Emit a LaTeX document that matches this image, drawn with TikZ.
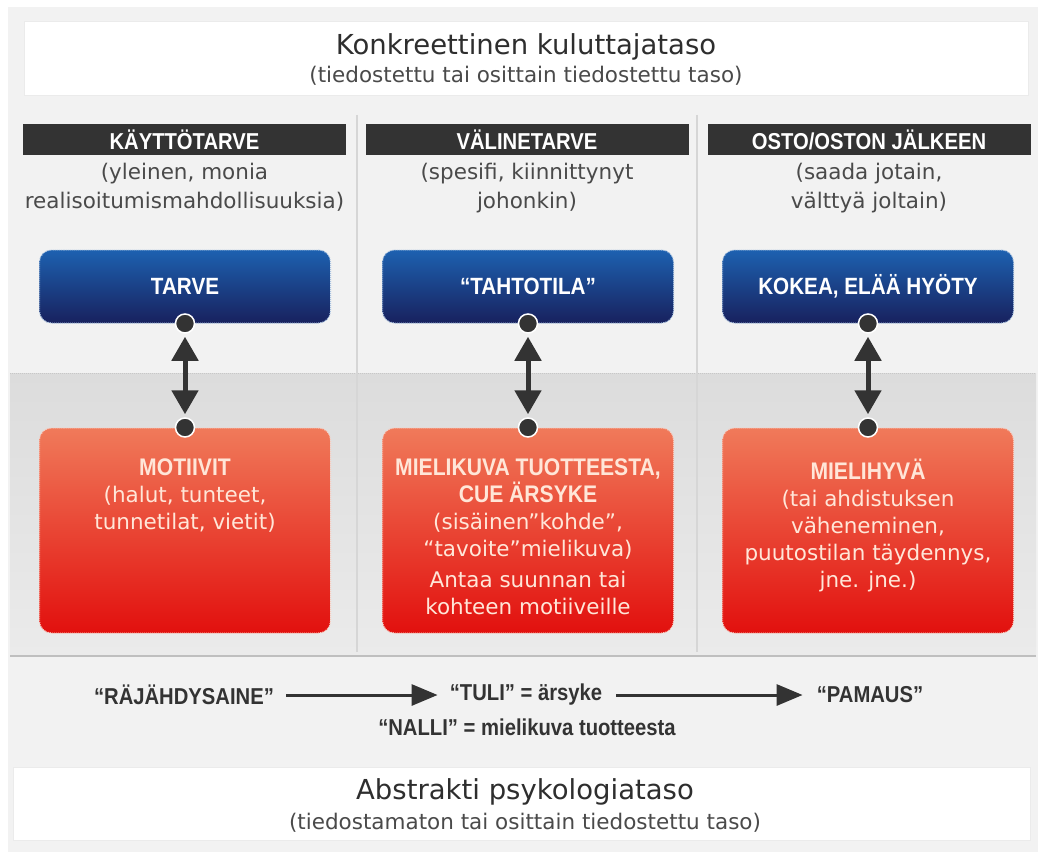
\documentclass[tikz,border=0pt]{standalone}
\usepackage{fontspec}
\setmainfont{DejaVu Sans}
\newfontfamily\headfont{Liberation Sans}[FakeStretch=0.88]
\usetikzlibrary{arrows.meta}
\definecolor{panel}{HTML}{F2F2F2}
\definecolor{bandtop}{HTML}{DCDCDC}
\definecolor{bandbot}{HTML}{EBEBEB}
\definecolor{bar}{HTML}{333333}
\definecolor{bluetop}{HTML}{1D61B0}
\definecolor{bluebot}{HTML}{18215E}
\definecolor{redtop}{HTML}{F07A5A}
\definecolor{redbot}{HTML}{E2100E}
\definecolor{peach}{HTML}{FFE6D8}
\definecolor{txt}{HTML}{2E2E2E}
\definecolor{sub}{HTML}{4A4A4A}
\newcommand\boxheadfont{\headfont\bfseries\fontsize{24}{27}\selectfont}
\newcommand\boxtextfont{\fontsize{21.5}{27}\selectfont}
\tikzset{
  whitebox/.style={fill=white, draw=black!8, line width=0.8pt},
  headbar/.style={fill=bar, minimum width=323pt, minimum height=31pt, inner sep=0pt,
    text=white, font=\headfont\bfseries\fontsize{23}{26}\selectfont},
  desc/.style={align=center, text=sub, font=\fontsize{21.5}{29}\selectfont},
  bluebox/.style={rounded corners=12pt, top color=bluetop, bottom color=bluebot,
    draw=white!60!bluetop, densely dotted, line width=1pt, minimum width=291pt,
    minimum height=73pt, inner sep=0pt, text=white,
    font=\headfont\bfseries\fontsize{23.5}{26}\selectfont},
  redbox/.style={rounded corners=12pt, top color=redtop, bottom color=redbot,
    draw=white!60!redtop, densely dotted, line width=1pt, minimum width=291pt,
    minimum height=205pt, inner sep=0pt},
  boxlabel/.style={anchor=base, align=center, text=peach, inner sep=0pt, font=\boxtextfont},
  dot/.style={circle, fill=bar, draw=white, line width=1.5pt, minimum size=19pt, inner sep=0pt},
  twoway/.style={{Triangle[width=26pt,length=24pt]}-{Triangle[width=26pt,length=24pt]},
    line width=5pt, draw=bar, shorten <=3pt, shorten >=3pt},
  flow/.style={-{Triangle[width=21pt,length=26pt]}, line width=3pt, draw=bar},
  flowtext/.style={text=bar, font=\headfont\bfseries\fontsize{23}{26}\selectfont, inner sep=0pt},
  colline/.style={draw=black!16, line width=1.2pt}
}
\begin{document}
\begin{tikzpicture}[x=1pt,y=-1pt]
  % canvas and panel
  \fill[white] (0,0) rectangle (1044,856);
  \useasboundingbox (0,0) rectangle (1044,856);
  \fill[panel] (8,7) rectangle (1038,852);
  % darker lower band
  \shade[top color=bandtop, bottom color=bandbot] (10,373) rectangle (1036,656);
  \draw[black!22, densely dotted, line width=1pt] (10,373) -- (1036,373);
  \draw[black!25, line width=1.2pt] (10,656) -- (1036,656);

  % column separators
  \draw[colline] (357,115) -- (357,652);
  \draw[colline] (697,115) -- (697,652);

  % top level box
  \draw[whitebox] (24,21) rectangle (1028,95);
  \node[text=txt, font=\fontsize{27.5}{30}\selectfont] (toptitle) at (526,47) {Konkreettinen kuluttajataso};
  \node[text=sub, font=\fontsize{21.5}{24}\selectfont] (topsub) at (526,76) {(tiedostettu tai osittain tiedostettu taso)};

  % column headers
  \node[headbar] (h1) at (184.5,139.5) {KÄYTTÖTARVE};
  \node[headbar] (h2) at (527,139.5) {VÄLINETARVE};
  \node[headbar] (h3) at (869,139.5) {OSTO/OSTON JÄLKEEN};

  \node[desc, anchor=north] (d1) at (184.5,160) {(yleinen, monia\\realisoitumismahdollisuuksia)};
  \node[desc, anchor=north] (d2) at (527,160) {(spesifi, kiinnittynyt\\johonkin)};
  \node[desc, anchor=north] (d3) at (869,160) {(saada jotain,\\välttyä joltain)};

  % upper (conscious) boxes
  \node[bluebox] (b1) at (185,286.5) {TARVE};
  \node[bluebox] (b2) at (528,286.5) {“TAHTOTILA”};
  \node[bluebox] (b3) at (868,286.5) {KOKEA, ELÄÄ HYÖTY};

  % lower (unconscious) boxes
  \node[redbox] (r1) at (185,530.5) {};
  \node[redbox] (r2) at (528,530.5) {};
  \node[redbox] (r3) at (868,530.5) {};

  \node[boxlabel, anchor=north] (t1) at ([yshift=-31pt]r1.north)
    {{\boxheadfont MOTIIVIT}\\
     (halut, tunteet,\\
     tunnetilat, vietit)};
  \node[boxlabel, anchor=north] (t2) at ([yshift=-31pt]r2.north)
    {{\boxheadfont MIELIKUVA TUOTTEESTA,}\\
     {\boxheadfont CUE ÄRSYKE}\\
     (sisäinen”kohde”,\\
     “tavoite”mielikuva)\\[4pt]
     Antaa suunnan tai\\
     kohteen motiiveille};
  \node[boxlabel, anchor=north] (t3) at ([yshift=-31pt]r3.north)
    {{\boxheadfont MIELIHYVÄ}\\
     (tai ahdistuksen\\
     väheneminen,\\
     puutostilan täydennys,\\
     jne. jne.)};

  % two-way links between the levels
  \foreach \i in {1,2,3} {
    \node[dot] (u\i) at (b\i.south) {};
    \node[dot] (l\i) at (r\i.north) {};
    \draw[twoway] (u\i.south) -- (l\i.north);
  }

  % explosion metaphor
  \node[flowtext] (raj) at (184,695) {“RÄJÄHDYSAINE”};
  \node[flowtext] (tuli) at (526,695) {“TULI” = ärsyke};
  \node[flowtext] (pam) at (870,695) {“PAMAUS”};
  \node[flowtext] (nalli) at (527,727) {“NALLI” = mielikuva tuotteesta};
  \draw[flow] ([xshift=12pt]raj.east) -- ([xshift=-12pt]tuli.west);
  \draw[flow] ([xshift=14pt]tuli.east) -- ([xshift=-14pt]pam.west);

  % bottom level box
  \draw[whitebox] (13,767) rectangle (1030,840);
  \node[text=txt, font=\fontsize{27.5}{30}\selectfont] (bottitle) at (525,792) {Abstrakti psykologiataso};
  \node[text=sub, font=\fontsize{21.5}{24}\selectfont] (botsub) at (525,823) {(tiedostamaton tai osittain tiedostettu taso)};
\end{tikzpicture}
\end{document}
